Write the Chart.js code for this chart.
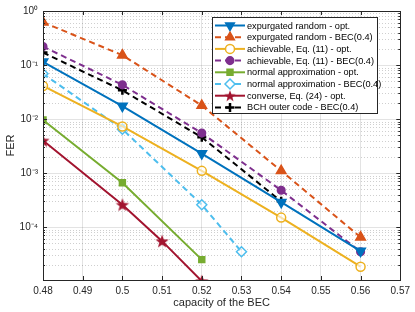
<!DOCTYPE html>
<html>
<head>
<meta charset="utf-8">
<script src="https://cdn.jsdelivr.net/npm/chart.js@4/dist/chart.umd.min.js"></script>
<style>
html,body{margin:0;padding:0;background:#fff;}
#wrap{width:415px;height:312px;position:relative;}
</style>
</head>
<body>
<div id="wrap"><canvas id="c" width="415" height="312"></canvas></div>
<script>
// ---- data ----
const capacity       = [0.48, 0.50, 0.52, 0.54, 0.56];
const expurgatedOpt  = [0.115, 0.0174, 0.0023, 2.9e-4, 3.6e-5];
const expurgatedBEC  = [0.62, 0.152, 0.0178, 0.0011, 6.5e-5];
const achievableOpt  = [0.041, 0.0073, 0.0011, 1.5e-4, 1.85e-5];
const achievableBEC  = [0.22, 0.043, 0.0055, 4.8e-4, 3.5e-5];
const normalOptCap   = [0.48, 0.50, 0.52];
const normalOpt      = [0.0096, 6.6e-4, 2.5e-5];
const normalBECCap   = [0.48, 0.50, 0.52, 0.53];
const normalBEC      = [0.069, 0.0065, 2.6e-4, 3.5e-5];
const converseCap    = [0.48, 0.50, 0.51, 0.52];
const converseOpt    = [0.004, 2.6e-4, 5.5e-5, 1.0e-5];
const bchCap         = [0.48, 0.50, 0.52, 0.54];
const bchBEC         = [0.17, 0.034, 0.0046, 3.0e-4];
const xTicks         = [0.48, 0.49, 0.50, 0.51, 0.52, 0.53, 0.54, 0.55, 0.56, 0.57];
const yDecades       = [1e-5, 1e-4, 1e-3, 1e-2, 1e-1, 1];
const seriesNames    = [
  'expurgated random - opt.',
  'expurgated random - BEC(0.4)',
  'achievable, Eq. (11) - opt.',
  'achievable, Eq. (11) - BEC(0.4)',
  'normal approximation - opt.',
  'normal approximation - BEC(0.4)',
  'converse, Eq. (24) - opt.',
  'BCH outer code - BEC(0.4)'
];

const FONT = '"Liberation Sans", Arial, Helvetica, sans-serif';
const AX = '#262626';

function pts(xs, ys){ return xs.map((x,i)=>({x:x, y:ys[i]})); }

// filled pentagram image for the converse series
function makeStar(color, r){
  const c = document.createElement('canvas');
  const s = Math.ceil(r*2+2);
  c.width = s; c.height = s;
  const g = c.getContext('2d');
  g.fillStyle = color;
  g.beginPath();
  for (let i=0;i<10;i++){
    const a = -Math.PI/2 + i*Math.PI/5;
    const rr = (i%2===0) ? r : r*0.42;
    const px = s/2 + rr*Math.cos(a), py = s/2 + rr*Math.sin(a) + 0.6;
    if(i===0) g.moveTo(px,py); else g.lineTo(px,py);
  }
  g.closePath(); g.fill();
  return c;
}
const starImg = makeStar('#A2142F', 7);
const starImgSmall = makeStar('#A2142F', 6);

const DASH = [6,4];
function ds(label, xs, ys, color, o){
  return Object.assign({
    label: label, data: pts(xs, ys),
    borderColor: color, backgroundColor: color,
    pointBorderColor: color, pointBackgroundColor: color,
    borderWidth: 2, pointBorderWidth: 1.5, pointRadius: 4,
    fill:false, tension:0
  }, o);
}

const datasets = [
  ds(seriesNames[0], capacity, expurgatedOpt, '#0072BD', {pointStyle:'triangle', rotation:180, pointRadius:5.5}),
  ds(seriesNames[1], capacity, expurgatedBEC, '#D95319', {pointStyle:'triangle', pointRadius:5.5, borderDash:DASH}),
  ds(seriesNames[2], capacity, achievableOpt, '#EDB120', {pointStyle:'circle', pointRadius:4.5, pointBackgroundColor:'rgba(255,255,255,0.6)'}),
  ds(seriesNames[3], capacity, achievableBEC, '#7E2F8E', {pointStyle:'circle', pointRadius:3.8, borderDash:DASH}),
  ds(seriesNames[4], normalOptCap, normalOpt, '#77AC30', {pointStyle:'rect', pointRadius:4.2}),
  ds(seriesNames[5], normalBECCap, normalBEC, '#4DBEEE', {pointStyle:'rectRot', pointRadius:5, pointBackgroundColor:'rgba(255,255,255,0.5)', borderDash:DASH}),
  ds(seriesNames[6], converseCap, converseOpt, '#A2142F', {pointStyle:starImg, pointRadius:7}),
  ds(seriesNames[7], bchCap, bchBEC, '#000000', {pointStyle:'cross', pointRadius:4.5, pointBorderWidth:2.5, borderDash:DASH})
];

const YMIN = 1.05e-5, YMAX = 1;

function supNum(k){
  const map = {'-':'\u207B','0':'\u2070','1':'\u00B9','2':'\u00B2','3':'\u00B3','4':'\u2074','5':'\u2075','6':'\u2076','7':'\u2077','8':'\u2078','9':'\u2079'};
  return String(k).split('').map(c=>map[c]).join('');
}
function isDecade(v){ const l = Math.log10(v); return Math.abs(l-Math.round(l))<1e-9; }

// minor grid, inward ticks, box
const framePlugin = {
  id:'frame',
  beforeDatasetsDraw(chart){
    const {ctx, chartArea:a, scales} = chart;
    const y = scales.y;
    ctx.save();
    ctx.strokeStyle = 'rgba(38,38,38,0.28)';
    ctx.lineWidth = 0.8;
    ctx.setLineDash([1,2]);
    y.ticks.forEach(t=>{
      if(isDecade(t.value)) return;
      const py = Math.round(y.getPixelForValue(t.value))+0.5;
      ctx.beginPath(); ctx.moveTo(a.left, py); ctx.lineTo(a.right, py); ctx.stroke();
    });
    ctx.restore();
  },
  afterDatasetsDraw(chart){
    const {ctx, chartArea:a, scales} = chart;
    const x = scales.x, y = scales.y;
    ctx.save();
    ctx.strokeStyle = AX; ctx.lineWidth = 1; ctx.setLineDash([]);
    ctx.strokeRect(Math.round(a.left)+0.5, Math.round(a.top)+0.5, Math.round(a.right-a.left), Math.round(a.bottom-a.top));
    ctx.beginPath();
    x.ticks.forEach(t=>{
      const px = Math.round(x.getPixelForValue(t.value))+0.5;
      ctx.moveTo(px, a.bottom); ctx.lineTo(px, a.bottom-4);
      ctx.moveTo(px, a.top); ctx.lineTo(px, a.top+4);
    });
    y.ticks.forEach(t=>{
      const L = isDecade(t.value) ? 4 : 2;
      const py = Math.round(y.getPixelForValue(t.value))+0.5;
      ctx.moveTo(a.left, py); ctx.lineTo(a.left+L, py);
      ctx.moveTo(a.right, py); ctx.lineTo(a.right-L, py);
    });
    ctx.stroke();
    ctx.restore();
  }
};

// MATLAB-style legend box
const legendPlugin = {
  id:'mlegend',
  afterDraw(chart){
    const ctx = chart.ctx;
    const bx = 212, by = 17, bw = 165, bh = 96;
    ctx.save();
    ctx.fillStyle = '#fff';
    ctx.fillRect(bx, by, bw, bh);
    ctx.strokeStyle = AX; ctx.lineWidth = 1;
    ctx.strokeRect(bx+0.5, by+0.5, bw, bh);
    // fit font so the longest entry spans ~128 px like the reference
    let fs = 10;
    const longest = seriesNames.reduce((a,b)=> a.length>=b.length ? a : b);
    for (; fs > 7; fs -= 0.1){
      ctx.font = fs.toFixed(1) + 'px ' + FONT;
      if (ctx.measureText(longest).width <= 128) break;
    }
    ctx.textBaseline = 'middle';
    ctx.textAlign = 'left';
    chart.data.datasets.forEach((d,i)=>{
      const cy = by + 8.5 + i*11.7;
      ctx.strokeStyle = d.borderColor;
      ctx.lineWidth = 2;
      ctx.setLineDash(d.borderDash || []);
      ctx.beginPath(); ctx.moveTo(bx+3, cy); ctx.lineTo(bx+33, cy); ctx.stroke();
      ctx.setLineDash([]);
      ctx.fillStyle = d.pointBackgroundColor;
      ctx.strokeStyle = d.pointBorderColor;
      ctx.lineWidth = d.pointBorderWidth;
      if (d.pointStyle === 'circle' && d.pointBackgroundColor.indexOf('rgba(255')===0){ ctx.fillStyle='#fff'; }
      if (d.pointStyle === 'rectRot'){ ctx.fillStyle='#fff'; }
      const ps = (d.pointStyle === starImg) ? starImgSmall : d.pointStyle;
      Chart.helpers.drawPoint(ctx, {pointStyle:ps, rotation:d.rotation||0, radius:Math.min(d.pointRadius,5), borderWidth:d.pointBorderWidth}, bx+18, cy);
      ctx.fillStyle = '#000';
      ctx.fillText(d.label, bx+35, cy+0.5);
    });
    ctx.restore();
  }
};

new Chart(document.getElementById('c'), {
  type:'line',
  data:{datasets:datasets},
  plugins:[framePlugin, legendPlugin],
  options:{
    responsive:false, animation:false, devicePixelRatio:1,
    layout:{padding:{left:0, right:12, top:7, bottom:0}},
    plugins:{legend:{display:false}, tooltip:{enabled:false}},
    scales:{
      x:{
        type:'linear', min:0.48, max:0.57,
        afterFit(s){ s.height = 32; },
        afterBuildTicks(s){ s.ticks = xTicks.map(v=>({value:v})); },
        ticks:{ padding:5, color:AX, font:{family:FONT, size:10}, maxRotation:0, autoSkip:false,
          callback:(v)=>String(Number(Number(v).toFixed(2))) },
        grid:{ color:'rgba(38,38,38,0.13)', lineWidth:1, drawTicks:false },
        border:{ display:false },
        title:{ display:true, text:'capacity of the BEC', color:AX, font:{family:FONT, size:11}, padding:{top:0, bottom:2} }
      },
      y:{
        type:'logarithmic', min:YMIN, max:YMAX,
        afterFit(s){ s.width = 43; },
        afterBuildTicks(s){
          const t = [];
          for (let k=-5;k<=0;k++) for (let m=1;m<=9;m++){
            const v = m*Math.pow(10,k);
            if (v>=YMIN*0.999 && v<=YMAX*1.0001) t.push({value:v});
          }
          s.ticks = t;
        },
        ticks:{ padding:5, color:AX, font:{family:FONT, size:10}, autoSkip:false,
          callback:(v)=> isDecade(v) ? '10' + supNum(Math.round(Math.log10(v))) : '' },
        grid:{ color:(c)=> (c.tick && isDecade(c.tick.value)) ? 'rgba(38,38,38,0.13)' : 'rgba(0,0,0,0)', lineWidth:1, drawTicks:false },
        border:{ display:false },
        title:{ display:true, text:'FER', color:AX, font:{family:FONT, size:11}, padding:{top:4, bottom:0} }
      }
    }
  }
});
</script>
</body>
</html>
